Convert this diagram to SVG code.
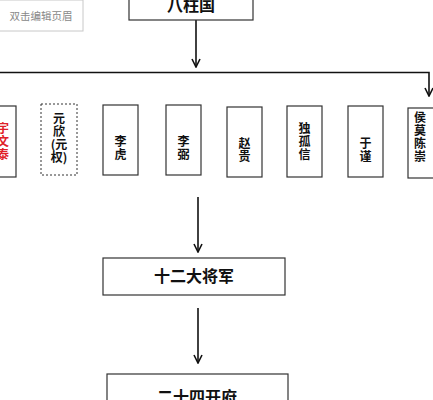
<svg xmlns="http://www.w3.org/2000/svg" width="433" height="400" viewBox="0 0 433 400">
<defs>
<marker id="ah" viewBox="0 0 10 10" refX="9" refY="5" markerWidth="10" markerHeight="10" markerUnits="userSpaceOnUse" orient="auto">
<path d="M1,1 L9,5 L1,9" fill="none" stroke="#111" stroke-width="1.6"/>
</marker>
<style>
.box{fill:#fff;stroke:#333;stroke-width:1.2}
.dash{fill:#fff;stroke:#333;stroke-width:1;stroke-dasharray:2,2}
.t{font-family:"Noto Sans CJK SC","Noto Sans CJK TC",sans-serif;font-weight:bold;fill:#111;text-anchor:middle}
.v{font-size:12px}
.red{fill:#e0202a}
.big{font-size:16px}
.ln{fill:none;stroke:#111;stroke-width:1.6}
</style>
</defs>
<rect width="433" height="400" fill="#fff"/>
<g id="header">
<rect x="-2" y="0" width="85" height="31" fill="#fff" stroke="#c8c8c8" stroke-width="1"/>
<text x="41" y="19.5" font-family="Noto Sans CJK SC,sans-serif" font-size="10.5" fill="#888" text-anchor="middle">双击编辑页眉</text>
</g>
<g id="connectors">
<line class="ln" x1="196" y1="20" x2="196" y2="67" marker-end="url(#ah)"/>
<path class="ln" d="M0,72.5 H429 V96" marker-end="url(#ah)" stroke-width="2"/>
<line class="ln" x1="198" y1="197" x2="198" y2="252" marker-end="url(#ah)"/>
<line class="ln" x1="198" y1="308" x2="198" y2="363" marker-end="url(#ah)"/>
</g>
<g id="bazhuguo">
<rect class="box" x="129" y="-10" width="124" height="30"/>
<text class="t big" x="191" y="11">八柱国</text>
</g>
<g id="yuwentai">
<rect class="box" x="-20" y="106" width="36" height="71"/>
<text class="t v red" x="3" y="132.5">宇</text>
<text class="t v red" x="3" y="145.5">文</text>
<text class="t v red" x="3" y="158.5">泰</text>
</g>
<g id="yuanxin">
<rect class="dash" x="41" y="104" width="36" height="71"/>
<text class="t v" x="59" y="123">元</text>
<text class="t v" x="59" y="136">欣</text>
<text class="t v" x="59" y="149">(元</text>
<text class="t v" x="59" y="162">权)</text>
</g>
<g id="lihu">
<rect class="box" x="103" y="105" width="35" height="70"/>
<text class="t v" x="120.5" y="145.5">李</text>
<text class="t v" x="120.5" y="158.5">虎</text>
</g>
<g id="libi">
<rect class="box" x="166" y="105" width="35" height="70"/>
<text class="t v" x="183.5" y="146">李</text>
<text class="t v" x="183.5" y="159">弼</text>
</g>
<g id="zhaogui">
<rect class="box" x="227" y="107" width="35" height="70"/>
<text class="t v" x="244.5" y="148">赵</text>
<text class="t v" x="244.5" y="161">贵</text>
</g>
<g id="dugu">
<rect class="box" x="287" y="106" width="35" height="71"/>
<text class="t v" x="304.5" y="132.5">独</text>
<text class="t v" x="304.5" y="145.5">孤</text>
<text class="t v" x="304.5" y="158.5">信</text>
</g>
<g id="yujin">
<rect class="box" x="348" y="106" width="35" height="71"/>
<text class="t v" x="365.5" y="148">于</text>
<text class="t v" x="365.5" y="161">谨</text>
</g>
<g id="houmochenchong">
<rect class="box" x="408" y="108" width="40" height="70"/>
<text class="t v" x="420" y="122">侯</text>
<text class="t v" x="420" y="135">莫</text>
<text class="t v" x="420" y="148">陈</text>
<text class="t v" x="420" y="161">崇</text>
</g>
<g id="shier">
<rect class="box" x="103" y="258" width="182" height="37"/>
<text class="t big" x="194" y="282">十二大将军</text>
</g>
<g id="ershisi">
<rect class="box" x="107" y="374" width="181" height="40"/>
<text class="t big" x="197" y="403">二十四开府</text>
</g>
</svg>
